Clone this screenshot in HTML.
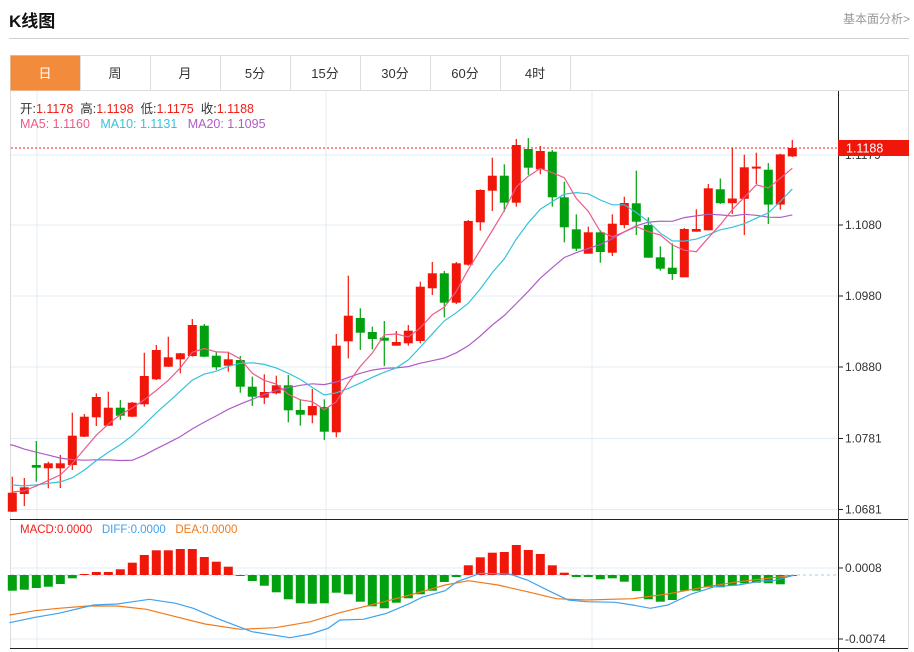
<!DOCTYPE html>
<html><head><meta charset="utf-8">
<style>
body{margin:0;background:#fff;font-family:"Liberation Sans","Noto Sans CJK SC",sans-serif;}
#w{position:relative;width:914px;height:652px;overflow:hidden;}
.t{position:absolute;white-space:nowrap;}
</style></head><body><div id="w">
<div class="t" style="left:9px;top:7px;font-size:17px;font-weight:bold;color:#111;">K线图</div>
<div class="t" style="right:4px;top:10px;font-size:12px;color:#999;">基本面分析&gt;</div>
<div style="position:absolute;left:9px;top:38px;width:900px;height:1px;background:#d0d0d0"></div>
<svg id="s" width="914" height="652" style="position:absolute;left:0;top:0"></svg>
<div class="t" style="left:20px;top:98px;font-size:12.5px;color:#333">开:<span style="color:#f0201a">1.1178</span>&nbsp;&nbsp;高:<span style="color:#f0201a">1.1198</span>&nbsp;&nbsp;低:<span style="color:#f0201a">1.1175</span>&nbsp;&nbsp;收:<span style="color:#f0201a">1.1188</span></div>
<div class="t" style="left:20px;top:117px;font-size:12.5px"><span style="color:#ee5a8a">MA5: 1.1160</span>&nbsp;&nbsp;&nbsp;<span style="color:#36c3dc">MA10: 1.1131</span>&nbsp;&nbsp;&nbsp;<span style="color:#b05cc8">MA20: 1.1095</span></div>
<div class="t" style="left:20px;top:524px;font-size:11.5px"><span style="color:#f0201a">MACD:0.0000</span>&nbsp;&nbsp;&nbsp;<span style="color:#3ea2ef">DIFF:0.0000</span>&nbsp;&nbsp;&nbsp;<span style="color:#f07a1a">DEA:0.0000</span></div>
</div>
<script>
var s=document.getElementById('s'),h='';
function L(x1,y1,x2,y2,c,w,d){h+='<line x1="'+x1+'" y1="'+y1+'" x2="'+x2+'" y2="'+y2+'" stroke="'+c+'" stroke-width="'+(w||1)+'"'+(d?' stroke-dasharray="'+d+'"':'')+'/>';}
function R(x,y,w,hh,c){h+='<rect x="'+x+'" y="'+y+'" width="'+w+'" height="'+hh+'" fill="'+c+'"/>';}
function T(x,y,t,c,sz,fw){h+='<text x="'+x+'" y="'+y+'" fill="'+(c||'#333')+'" font-size="'+(sz||12)+'" font-family="Liberation Sans,Noto Sans CJK SC,sans-serif">'+t+'</text>';}
h+='<rect x="10.5" y="55.5" width="898" height="35" fill="none" stroke="#ddd"/>';
var tabs=['日','周','月','5分','15分','30分','60分','4时'];
for(var i=0;i<8;i++){var x=10+i*70;if(i==0)R(10.5,55.5,70,35,'#f28c3c');L(x+70.5,55.5,x+70.5,90.5,'#ddd');
h+='<text x="'+(x+35)+'" y="78" text-anchor="middle" fill="'+(i?'#333':'#fff')+'" font-size="13" font-family="Liberation Sans,Noto Sans CJK SC,sans-serif">'+tabs[i]+'</text>';}
L(10.5,90,10.5,649,'#ddd');L(908.5,90,908.5,649,'#ddd');
[155,225,296,367,438.5,509.5].forEach(function(y){L(11,y,838,y,'#e2ecf3');});
[37,326,592].forEach(function(x){L(x,91,x,519,'#e2ecf3');L(x,520,x,648,'#e2ecf3');});
L(11,639,838,639,'#e2ecf3');L(11,568,838,568,'#e2ecf3');
L(838.5,91,838.5,652,'#222');L(10,519.5,908,519.5,'#222');L(10,648.5,908,648.5,'#222');
var pl=[[225,'1.1080'],[296,'1.0980'],[367,'1.0880'],[438.5,'1.0781'],[509.5,'1.0681'],[568,'0.0008'],[639,'-0.0074'],[155,'1.1179']];
pl.forEach(function(p){L(838,p[0],843,p[0],'#222');T(845,p[0]+4,p[1],'#333',12);});
var C=[[511.7,492.7,476.7,512],[494,487.3,478,506],[465,467.7,441,481.7],[468.3,463.3,461.7,488.3],[468.3,463.3,455,488],[465,435.7,412.7,470],[436.7,416.7,414,437],[417.3,397,393.3,426],[425.7,407.7,391.7,425.7],[407.7,415.7,400,420],[416.7,402.7,402,417],[404.3,376,352.7,406.7],[379.3,350,345,380],[366.7,357.3,336.7,367],[359.3,353.3,353,373.3],[356,325,319,356.7],[325.7,356.7,324,357],[355.7,367.3,351.7,370],[365.7,359.3,351.7,371.7],[360,386.7,356,392.7],[386.7,396.7,376.7,406],[397.7,392,374.3,404],[393.3,385.3,375.7,394.3],[385.3,410.3,375,422.3],[410,414.7,399.3,425.7],[415.3,406,389,423.3],[407,431.7,399.3,440],[432.3,345.7,334,437.3],[341.3,315.7,275.7,358.3],[318,332.7,308.3,350],[332,339,326.7,349.3],[337.7,340.7,321,366],[345.7,342,331,345.7],[343.3,330.7,325,345.7],[341,286.7,281.7,343.3],[288.3,273.3,262,295],[273.3,302.7,271,317.3],[302.7,263.3,262,304],[264.7,221,220,265.7],[222.3,190,189.3,230.7],[190.7,175.7,157.7,211],[175.7,202.7,164.3,211.7],[202.7,145,139,206.7],[149,167.7,138,175],[169.3,151,146,174.3],[151.7,197.3,150,206.7],[197.3,227.3,181.7,242.3],[229.3,248.7,214.3,251],[253.7,232.3,226.7,253.7],[232.3,252,230,262.7],[252.7,223.7,214.3,256],[225,203,196.7,228.3],[203.3,221.7,170.7,235],[225,257.7,217.3,257.7],[257.3,268.7,246.3,270.7],[267.7,274,243.3,280],[277.3,229,228,277.3],[231.7,229,209.3,231.7],[230.3,188.3,184,230.3],[189.3,203.2,178.5,204],[203.2,198.5,147.6,214],[198.8,167.3,154.7,235],[168.3,166.6,152.7,184],[169.7,204.6,163,224],[204.6,154.4,153.7,209.7],[156.4,148,140,157]];
var X=function(i){return 12.3+i*12.0;};
C.forEach(function(c,i){var x=X(i),up=c[1]<c[0],col=up?'#f0160a':'#00a00e';
L(x,c[2],x,c[3],col,1.2);var t=Math.min(c[0],c[1]),b=Math.max(c[0],c[1]);R(x-4.5,t,9,Math.max(b-t,2),col);});
var cl=[];for(var k=0;k<10;k++)cl.push(405);for(k=0;k<5;k++)cl.push(478);cl.push(493,492,491,491);
C.forEach(function(c){cl.push(c[1]);});
var off=19;
function ma(n,col){var p=[];for(var i=0;i<C.length;i++){var j=i+off,sm=0;for(var q=0;q<n;q++)sm+=cl[j-q];p.push(X(i).toFixed(1)+','+(sm/n).toFixed(1));}
if(n==20)p.unshift('10,445');
h+='<polyline points="'+p.join(' ')+'" fill="none" stroke="'+col+'" stroke-width="1.2"/>';}
ma(20,'#b05cc8');ma(10,'#36c3dc');ma(5,'#ee5a8a');
L(11,148,838,148,'#f0201a',1,'2,2');R(838,140,71,16,'#f0160a');T(846,152.5,'1.1188','#fff',12.5);
var M=[590.7,589.7,588,586.7,584,578.3,574,572,572,569.3,562.7,555,550.3,550.3,549,549,557,561.7,566.7,575.5,581,585.7,592.3,599.3,603.3,603.7,603.3,592.7,594.3,601.7,606.3,608.3,602.7,598.3,594.3,590.7,582,577,565.3,557.3,552.7,552,545,550,554,565.3,572.7,577,577,579.3,578.3,581.7,591,599.3,601.7,600,590.7,590.7,587.3,587.3,585.7,583.3,582.7,583.3,584.3,576];
var Z=575;L(11,Z,838,Z,'#9fd0e6',1,'3,3');
M.forEach(function(y,i){var x=X(i);if(y<Z)R(x-4.5,y,9,Z-y,'#f0160a');else R(x-4.5,Z,9,Math.max(y-Z,1),'#00a00e');});
function pl2(a,col){var p=a.map(function(q){return (q[0]/1.707).toFixed(1)+','+(q[1]/3+500).toFixed(1);});h+='<polyline points="'+p.join(' ')+'" fill="none" stroke="'+col+'" stroke-width="1.2"/>';}
pl2([[16,345],[60,332],[100,325],[150,318],[200,318],[250,328],[300,350],[350,372],[410,388],[470,383],[530,365],[580,338],[640,312],[700,285],[760,255],[800,242],[850,255],[900,275],[950,296],[1000,300],[1080,296],[1140,282],[1200,262],[1260,245],[1355,226]],'#f07a1a');
pl2([[16,368],[60,352],[100,340],[160,315],[200,312],[255,298],[300,310],[330,325],[370,355],[430,395],[495,413],[530,402],[560,385],[580,360],[620,358],[660,340],[700,310],[720,292],[760,272],[780,245],[820,220],[870,222],[900,240],[940,275],[970,300],[1000,305],[1050,307],[1080,315],[1110,325],[1140,315],[1180,282],[1220,260],[1260,255],[1300,243],[1320,242],[1355,226]],'#3ea2ef');
s.innerHTML=h;
</script>
</body></html>
